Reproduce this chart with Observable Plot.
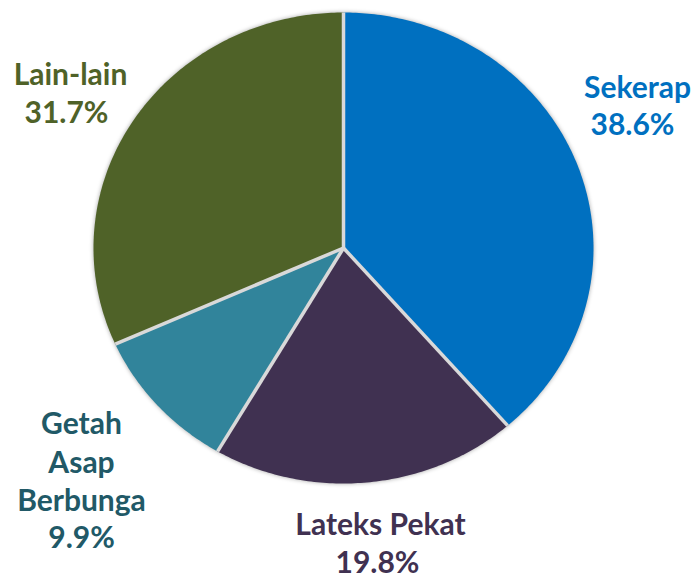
<!DOCTYPE html>
<html><head><meta charset="utf-8">
<script src="https://cdn.jsdelivr.net/npm/d3@7"></script>
<script src="https://cdn.jsdelivr.net/npm/@observablehq/plot@0.6"></script>
<style>
body{margin:0;background:#fff;}
#chart svg{display:block;}
</style></head><body><div id="chart"></div>
<script>
// ---- data ----
const categories = ["Sekerap", "Lateks Pekat", "Getah Asap Berbunga", "Lain-lain"];
const shares = [38.6, 19.8, 9.9, 31.7];
const labelNames = ["Sekerap", "Lateks Pekat", "Getah\nAsap\nBerbunga", "Lain-lain"];

// ---- styles / layout ----
const sliceColors = ["#0070C0", "#403151", "#31849B", "#4F6228"];
const labelColors = ["#0070C0", "#403151", "#215967", "#4F6228"];
const nameX = [637, 380, 81, 70];
const nameBaseline = [97, 534, 510, 84];
const pctX = [632, 377, 81, 66];
const pctBaseline = [134, 572, 547, 122];

const W = 694, H = 577;
const cx = 343, cy = 247.5, rx = 250, ry = 235.5;

const arcs = d3.pie().sort(null).value(d => d)(shares);
const pts = [];
const seps = [];
arcs.forEach((a, i) => {
  const cat = categories[i];
  pts.push({cat, x: cx, y: cy});
  const n = Math.max(2, Math.ceil((a.endAngle - a.startAngle) * 80));
  for (let k = 0; k <= n; k++) {
    const t = a.startAngle + (a.endAngle - a.startAngle) * k / n;
    pts.push({cat, x: cx + rx * Math.sin(t), y: cy - ry * Math.cos(t)});
  }
  seps.push({x1: cx, y1: cy, x2: cx + rx * Math.sin(a.startAngle), y2: cy - ry * Math.cos(a.startAngle)});
});

const labels = categories.map((c, i) => ({
  name: labelNames[i], pct: shares[i].toFixed(1) + "%",
  nx: nameX[i], ny: nameBaseline[i], px: pctX[i], py: pctBaseline[i], color: labelColors[i]
}));

const textStyle = {fontSize: 30, fontWeight: "bold", fontFamily: "Lato", lineAnchor: "bottom", textAnchor: "middle"};

const chart = Plot.plot({
  width: W, height: H,
  margin: 0,
  x: {domain: [0, W], range: [0, W], axis: null},
  y: {domain: [0, H], range: [0, H], axis: null},
  color: {domain: categories, range: sliceColors},
  marks: [
    Plot.line(pts, {x: "x", y: "y", z: "cat", fill: "cat", stroke: "none", curve: "linear-closed"}),
    Plot.link(seps, {x1: "x1", y1: "y1", x2: "x2", y2: "y2", stroke: "#d9d9d9", strokeWidth: 3.5}),
    Plot.text(labels, {x: "nx", y: "ny", text: "name", fill: d => d.color, lineHeight: 1.267, ...textStyle}),
    Plot.text(labels, {x: "px", y: "py", text: "pct", fill: d => d.color, ...textStyle})
  ]
});
const g = chart.querySelector('g[aria-label="line"]');
if (g) g.style.filter = "drop-shadow(0px 0px 2px rgba(0,0,0,0.35))";
document.getElementById("chart").appendChild(chart);
</script></body></html>
